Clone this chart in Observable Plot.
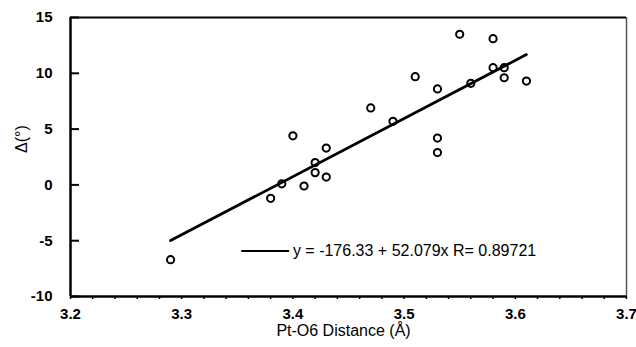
<!DOCTYPE html>
<html><head><meta charset="utf-8">
<script src="https://cdn.jsdelivr.net/npm/d3@7"></script>
<script src="https://cdn.jsdelivr.net/npm/@observablehq/plot@0.6"></script>
<style>
body{margin:0;background:#fff;}
#chart svg{font-family:Arial,"Liberation Sans",Helvetica,sans-serif;}
</style>
</head><body><div id="chart"></div>
<script>
// Data
const distance = [3.29, 3.38, 3.39, 3.40, 3.41, 3.42, 3.42, 3.43, 3.43, 3.47, 3.49, 3.51, 3.53, 3.53, 3.53, 3.55, 3.56, 3.58, 3.58, 3.59, 3.59, 3.61];
const delta    = [-6.7, -1.2, 0.1, 4.4, -0.1, 2.0, 1.1, 3.3, 0.7, 6.9, 5.7, 9.7, 8.6, 4.2, 2.9, 13.5, 9.1, 13.1, 10.5, 10.5, 9.6, 9.3];
const xTicks = [3.2, 3.3, 3.4, 3.5, 3.6, 3.7];
const xMinorTicks = [3.2, 3.22, 3.24, 3.26, 3.28, 3.3, 3.32, 3.34, 3.36, 3.38, 3.4, 3.42, 3.44, 3.46, 3.48, 3.5, 3.52, 3.54, 3.56, 3.58, 3.6, 3.62, 3.64, 3.66, 3.68, 3.7];
const yTicks = [-10, -5, 0, 5, 10, 15];
const fitIntercept = -176.33;
const fitSlope = 52.079;
const fitR = 0.89721;
const xLabel = "Pt-O6 Distance (Å)";
const yLabel = "Δ(°)";

const points = distance.map((d, i) => ({x: d, y: delta[i]}));
const xExt = d3.extent(distance);
const fit = xExt.map(x => ({x, y: fitIntercept + fitSlope * x}));
const legendText = `y = ${fitIntercept} + ${fitSlope}x R= ${fitR}`;

// legend placement (inside the plot, data units)
const legX1 = 3.354, legX2 = 3.397, legY = -5.93;

const chart = Plot.plot({
  width: 636,
  height: 347,
  marginLeft: 70,
  marginRight: 10,
  marginTop: 17,
  marginBottom: 51,
  style: {fontFamily: "Arial, 'Liberation Sans', sans-serif", background: "#fff"},
  x: {domain: [3.2, 3.7], axis: null},
  y: {domain: [-10, 15], axis: null},
  marks: [
    // frame
    Plot.ruleX([3.7], {stroke: "#555", strokeWidth: 1.5}),
    Plot.ruleY([15], {stroke: "#000", strokeWidth: 1.8}),
    Plot.ruleX([3.2], {stroke: "#000", strokeWidth: 2.5}),
    Plot.ruleY([-10], {stroke: "#000", strokeWidth: 2.5}),
    // x axis: small outward ticks, labels
    Plot.axisX(xMinorTicks, {tickSize: 3, strokeWidth: 1.5, text: null, label: null}),
    Plot.axisX(xTicks, {tickSize: 0, tickPadding: 12, tickFormat: d3.format(".1f"), fontSize: 15, fontWeight: "bold", label: null}),
    // y axis: inward ticks, labels
    Plot.axisY(yTicks, {tickSize: -9, strokeWidth: 2, text: null, label: null}),
    Plot.axisY(yTicks, {tickSize: 0, tickPadding: 18, tickFormat: d => String(d), fontSize: 15, fontWeight: "bold", label: null}),
    // axis titles
    Plot.text([xLabel], {frameAnchor: "bottom", dy: 39, dx: -5, fontSize: 16}),
    Plot.text([yLabel], {frameAnchor: "left", dx: -49, dy: -4, rotate: -90, fontSize: 16}),
    // regression line
    Plot.line(fit, {x: "x", y: "y", stroke: "#000", strokeWidth: 2.8}),
    // points
    Plot.dot(points, {x: "x", y: "y", r: 3.6, stroke: "#000", strokeWidth: 2, fill: "none"}),
    // legend
    Plot.ruleY([legY], {x1: legX1, x2: legX2, stroke: "#000", strokeWidth: 2}),
    Plot.text([legendText], {x: legX2 + 0.003, y: legY, textAnchor: "start", fontSize: 16})
  ]
});
document.getElementById("chart").append(chart);
</script>
</body></html>
